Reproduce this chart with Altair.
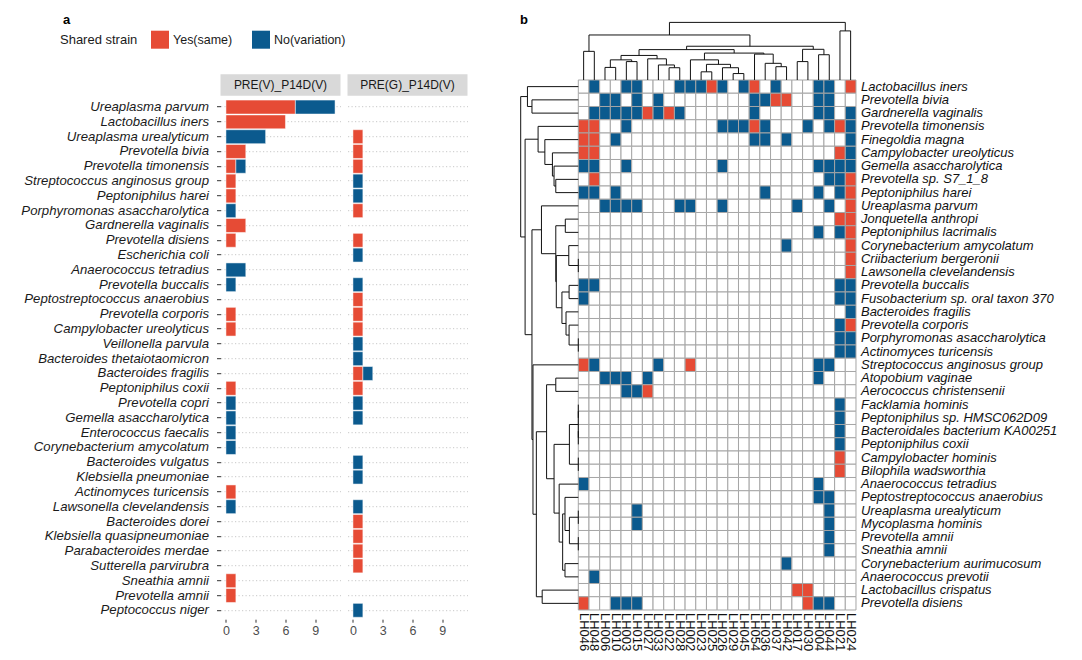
import pandas as pd
import altair as alt

RED = "#E64B35"
BLUE = "#0B5A8E"

# ---------------- data: panel a ----------------
bar_species = [
    "Ureaplasma parvum", "Lactobacillus iners", "Ureaplasma urealyticum",
    "Prevotella bivia", "Prevotella timonensis", "Streptococcus anginosus group",
    "Peptoniphilus harei", "Porphyromonas asaccharolytica", "Gardnerella vaginalis",
    "Prevotella disiens", "Escherichia coli", "Anaerococcus tetradius",
    "Prevotella buccalis", "Peptostreptococcus anaerobius", "Prevotella corporis",
    "Campylobacter ureolyticus", "Veillonella parvula", "Bacteroides thetaiotaomicron",
    "Bacteroides fragilis", "Peptoniphilus coxii", "Prevotella copri",
    "Gemella asaccharolytica", "Enterococcus faecalis", "Corynebacterium amycolatum",
    "Bacteroides vulgatus", "Klebsiella pneumoniae", "Actinomyces turicensis",
    "Lawsonella clevelandensis", "Bacteroides dorei", "Klebsiella quasipneumoniae",
    "Parabacteroides merdae", "Sutterella parvirubra", "Sneathia amnii",
    "Prevotella amnii", "Peptococcus niger",
]
panel_names = ["PRE(V)_P14D(V)", "PRE(G)_P14D(V)"]
status_labels = ["Yes(same)", "No(variation)"]
legend_title = "Shared strain"

pv_yes = [7, 6, 0, 2, 1, 1, 1, 0, 2, 1, 0, 0, 0, 0, 1, 1, 0, 0, 0, 1, 0, 0, 0, 0, 0, 0, 1, 0, 0, 0, 0, 0, 1, 1, 0]
pv_no = [4, 0, 4, 0, 1, 0, 0, 1, 0, 0, 0, 2, 1, 0, 0, 0, 0, 0, 0, 0, 1, 1, 1, 1, 0, 0, 0, 1, 0, 0, 0, 0, 0, 0, 0]
pg_yes = [0, 0, 1, 1, 1, 0, 0, 1, 0, 1, 0, 0, 0, 1, 1, 1, 0, 0, 1, 1, 0, 0, 0, 0, 0, 0, 0, 0, 1, 1, 1, 1, 0, 0, 0]
pg_no = [0, 0, 0, 0, 0, 1, 1, 0, 0, 0, 1, 0, 1, 0, 0, 0, 1, 1, 1, 0, 1, 1, 0, 0, 1, 1, 0, 1, 0, 0, 0, 0, 0, 0, 1]
x_ticks = [0, 3, 6, 9]

# ---------------- data: panel b ----------------
heat_cols = ["LH046", "LH048", "LH006", "LH010", "LH003", "LH015", "LH027", "LH033",
             "LH022", "LH028", "LH002", "LH023", "LH025", "LH026", "LH029", "LH045",
             "LH054", "LH036", "LH037", "LH042", "LH017", "LH030", "LH004", "LH044",
             "LH021", "LH024"]
heat_rows = [
    "Lactobacillus iners", "Prevotella bivia", "Gardnerella vaginalis",
    "Prevotella timonensis", "Finegoldia magna", "Campylobacter ureolyticus",
    "Gemella asaccharolytica", "Prevotella sp. S7_1_8", "Peptoniphilus harei",
    "Ureaplasma parvum", "Jonquetella anthropi", "Peptoniphilus lacrimalis",
    "Corynebacterium amycolatum", "Criibacterium bergeronii", "Lawsonella clevelandensis",
    "Prevotella buccalis", "Fusobacterium sp. oral taxon 370", "Bacteroides fragilis",
    "Prevotella corporis", "Porphyromonas asaccharolytica", "Actinomyces turicensis",
    "Streptococcus anginosus group", "Atopobium vaginae", "Aerococcus christensenii",
    "Facklamia hominis", "Peptoniphilus sp. HMSC062D09", "Bacteroidales bacterium KA00251",
    "Peptoniphilus coxii", "Campylobacter hominis", "Bilophila wadsworthia",
    "Anaerococcus tetradius", "Peptostreptococcus anaerobius", "Ureaplasma urealyticum",
    "Mycoplasma hominis", "Prevotella amnii", "Sneathia amnii",
    "Corynebacterium aurimucosum", "Anaerococcus prevotii", "Lactobacillus crispatus",
    "Prevotella disiens",
]
# R = Yes(same), B = No(variation), . = not detected  (grouped by 5 columns)
heat_cells = [
    ".B..B B...B BBRB. BR.B. ..BB. R",
    "..BB. B.B.. ..... .BBRR ..BB. .",
    ".BBBB BRBRB ..... .B... ..BB. B",
    "RR..B ..... ...BB BRB.. .B.BR B",
    "RR.B. ..... ..... .BB.B ..... B",
    "RR... ..... ..... ..... ....R B",
    "BB..B ..... ...B. ..... ..BBB B",
    ".R... ..... ..... ..... ...BB R",
    "BB.B. ..... ..... ..B.. ..B.B R",
    "..BBB B...B B..B. ..... B..B. R",
    "..... ..... ..... ..... ....R R",
    "..... ..... ..... ..... ..B.B R",
    "..... ..... ..... ....B ..... R",
    "..... ..... ..... ..... ..... R",
    "..... ..... ..... ..... ..... R",
    "BB... ..... ..... ..... ....B B",
    "B.... ..... ..... ..... ....B B",
    "..... ..... ..... ..... ..... B",
    "..... ..... ..... ..... ....B R",
    "..... ..... ..... ..... ....B B",
    "..... ..... ..... ..... ....B B",
    "RB... ..B.. R.... ..... ..BB. .",
    "..BBB .B... ..... ..... ..B.. .",
    "....B BR... ..... ..... ..... .",
    "..... ..... ..... ..... ....B .",
    "..... ..... ..... ..... ....B .",
    "..... ..... ..... ..... ....B .",
    "..... ..... ..... ..... ....B .",
    "..... ..... ..... ..... ....R .",
    "..... ..... ..... ..... ....R .",
    "B.... ..... ..... ..... ..B.. .",
    "..... ..... ..... ..... ..BB. .",
    "..... B.... ..... ..... ...B. .",
    "..... B.... ..... ..... ...B. .",
    "..... ..... ..... ..... ...B. .",
    "..... ..... ..... ..... ...B. .",
    "..... ..... ..... ....B ..... .",
    ".B... ..... ..... ..... ..... .",
    "..... ..... ..... ..... RR... .",
    "R..BB B.... ..... ..... .RBB. .",
]

# dendrogram merges: (left, right, height); int = leaf position (1-based), "nK" = K-th merge
col_merges = [
    (1, 2, 28.0), (3, 4, 12.3), (5, 6, 18.0), ("n2", "n3", 19.7), (9, 10, 12.0),
    (8, "n5", 14.7), (7, "n6", 20.7), ("n4", "n7", 24.0), (12, 13, 8.0), (15, 16, 6.3),
    (14, "n10", 12.0), ("n9", "n11", 15.3), (11, "n12", 19.7), (19, 20, 13.0),
    (18, "n14", 16.3), (17, "n15", 25.3), ("n13", "n16", 26.3), ("n8", "n17", 29.7),
    (21, 22, 18.0), (23, 24, 24.7), ("n19", "n20", 30.0), ("n18", "n21", 33.0),
    ("n1", "n22", 44.0), (25, 26, 48.0), ("n23", "n24", 56.3),
]
row_merges = [
    (2, 3, 45.3), (1, "n1", 49.7), (8, 9, 22.0), (7, "n3", 23.7), (6, "n4", 25.3),
    (5, "n5", 32.7), (4, "n6", 39.3), (11, 12, 12.7), (14, 15, 0.0), (13, "n9", 9.3),
    (16, 17, 9.0), (20, 21, 0.0), (19, "n12", 9.0), (18, "n13", 12.0), ("n11", "n14", 16.0),
    ("n10", "n15", 21.5), ("n8", "n16", 22.0), (10, "n17", 36.0), (23, 24, 22.0),
    (25, 26, 0.0), (27, 28, 0.0), ("n20", "n21", 0.0), (29, 30, 0.0), ("n22", "n23", 8.7),
    (33, 34, 0.0), (35, 36, 0.0), ("n25", "n26", 8.7), (32, "n27", 13.0), (37, 38, 13.0),
    ("n28", "n29", 15.3), (31, "n30", 18.7), ("n24", "n31", 23.7), ("n19", "n32", 31.0),
    (39, 40, 35.3), ("n33", "n34", 41.0), (22, "n35", 44.3), ("n18", "n36", 45.3),
    ("n7", "n37", 52.0), ("n2", "n38", 56.3),
]

# ---------------- layout constants ----------------
PANEL_W = 120
PANEL_H = 521
GAP = 7
N_COLS = len(heat_cols)
N_ROWS = len(heat_rows)
COL_PX = 10.68
ROW_PX = 13.25
HEAT_LEFT = 103.8
HEAT_TOP = -18.2
TREE_PX = 57.6
FONT = "Liberation Sans"

# ---------------- build frames ----------------
def bar_frame(yes, no):
    recs = []
    for i, sp in enumerate(bar_species):
        for k, (lab, vals) in enumerate(zip(status_labels, (yes, no))):
            if vals[i] > 0:
                recs.append({"species": sp, "status": lab, "count": vals[i], "ord": k})
    return pd.DataFrame(recs)


code_map = {"R": RED, "B": BLUE, ".": "#FFFFFF"}
heat_recs = []
for r, row in enumerate(heat_cells):
    s = row.replace(" ", "")
    assert len(s) == N_COLS
    for c, ch in enumerate(s):
        heat_recs.append({"x": c, "x2": c + 1, "y": r, "y2": r + 1, "fill": code_map[ch]})
df_heat = pd.DataFrame(heat_recs)


def tree_segments(merges):
    pos, hgt, segs = {}, {}, []
    for k, (a, b, h) in enumerate(merges, start=1):
        def get(n):
            if isinstance(n, int):
                return n - 0.5, 0.0
            return pos[n], hgt[n]
        pa, ha = get(a)
        pb, hb = get(b)
        segs += [(pa, ha, pa, h), (pb, hb, pb, h), (pa, h, pb, h)]
        pos[f"n{k}"] = (pa + pb) / 2
        hgt[f"n{k}"] = h
    return [s for s in segs if not (s[0] == s[2] and s[1] == s[3])]


tree_recs = []
cmax = max(m[2] for m in col_merges)
for p1, h1, p2, h2 in tree_segments(col_merges):
    f = TREE_PX / cmax / ROW_PX
    tree_recs.append({"x": p1, "x2": p2, "y": -h1 * f, "y2": -h2 * f})
rmax = max(m[2] for m in row_merges)
for p1, h1, p2, h2 in tree_segments(row_merges):
    f = TREE_PX / rmax / COL_PX
    tree_recs.append({"y": p1, "y2": p2, "x": -h1 * f, "x2": -h2 * f})
df_tree = pd.DataFrame(tree_recs)

df_rowlab = pd.DataFrame({"name": heat_rows, "x": N_COLS, "y": [i + 0.5 for i in range(N_ROWS)]})
df_collab = pd.DataFrame({"name": heat_cols, "x": [i + 0.5 for i in range(N_COLS)], "y": N_ROWS})

# ---------------- panel a ----------------
color_enc = alt.Color(
    "status:N",
    scale=alt.Scale(domain=status_labels, range=[RED, BLUE]),
    legend=alt.Legend(
        title=None, orient="none", legendX=-69.5, legendY=-67.5, direction="horizontal",
        symbolType="square", symbolSize=324, symbolStrokeWidth=0, labelFontSize=12.5,
        labelColor="#1a1a1a", labelOffset=4, columnPadding=19, labelFont=FONT,
    ),
)


def bar_panel(yes, no, name, first):
    yaxis = alt.Axis(
        title=None, domain=False, grid=True, gridDash=[1.2, 2.3], gridColor="#c8c8c8",
        gridWidth=1, bandPosition=0.5, labels=first, ticks=first, tickColor="#333333",
        tickSize=4, labelPadding=8, labelFontSize=13.2, labelFontStyle="italic",
        labelColor="#1a1a1a", labelLimit=400, labelFont=FONT,
    )
    bars = alt.Chart(bar_frame(yes, no)).mark_bar(stroke="white", strokeWidth=0.5).encode(
        x=alt.X("count:Q", stack="zero",
                scale=alt.Scale(domain=[-0.55, 11.55], nice=False, zero=False),
                axis=alt.Axis(title=None, values=x_ticks, grid=False, domain=False,
                              tickColor="#333333", tickSize=3, labelPadding=2,
                              labelFontSize=12.5, labelColor="#4d4d4d", labelFont=FONT)),
        y=alt.Y("species:N",
                scale=alt.Scale(domain=bar_species, paddingInner=0.06, paddingOuter=0.13),
                axis=yaxis),
        color=color_enc,
        order=alt.Order("ord:Q"),
    )
    hdr_df = pd.DataFrame({"label": [name]})
    strip = alt.Chart(hdr_df).mark_rect(color="#d9d9d9").encode(
        x=alt.value(0), x2=alt.value(PANEL_W), y=alt.value(-24), y2=alt.value(-2.5))
    strip_txt = alt.Chart(hdr_df).mark_text(fontSize=12, color="#1a1a1a", font=FONT).encode(
        text="label:N", x=alt.value(PANEL_W / 2), y=alt.value(-13))
    layers = [strip, strip_txt, bars]
    if first:
        a_lab = alt.Chart(pd.DataFrame({"t": ["a"]})).mark_text(
            fontSize=13, fontWeight="bold", align="left", baseline="top", color="black",
            font=FONT).encode(text="t:N", x=alt.value(-157.5), y=alt.value(-84.3))
        lt = alt.Chart(pd.DataFrame({"t": [legend_title]})).mark_text(
            fontSize=13, align="left", baseline="middle", color="#1a1a1a", font=FONT).encode(
            text="t:N", x=alt.value(-160.5), y=alt.value(-58))
        layers += [a_lab, lt]
    return alt.layer(*layers).properties(width=PANEL_W, height=PANEL_H)


c1 = bar_panel(pv_yes, pv_no, panel_names[0], True)
c2 = bar_panel(pg_yes, pg_no, panel_names[1], False)

# ---------------- panel b ----------------
xs = alt.Scale(domain=[0, N_COLS], range=[HEAT_LEFT, HEAT_LEFT + N_COLS * COL_PX], nice=False, zero=False)
ys = alt.Scale(domain=[0, N_ROWS], range=[HEAT_TOP, HEAT_TOP + N_ROWS * ROW_PX], nice=False, zero=False)

heat = alt.Chart(df_heat).mark_rect(stroke="#a6a6a6", strokeWidth=1).encode(
    x=alt.X("x:Q", scale=xs, axis=None), x2="x2:Q",
    y=alt.Y("y:Q", scale=ys, axis=None), y2="y2:Q",
    fill=alt.Fill("fill:N", scale=None),
)
tree = alt.Chart(df_tree).mark_rule(color="#111111", strokeWidth=1).encode(
    x=alt.X("x:Q", scale=xs, axis=None), x2="x2:Q",
    y=alt.Y("y:Q", scale=ys, axis=None), y2="y2:Q",
)
rowlab = alt.Chart(df_rowlab).mark_text(
    align="left", baseline="middle", dx=5, fontSize=13, fontStyle="italic",
    color="#111111", font=FONT).encode(
    x=alt.X("x:Q", scale=xs, axis=None), y=alt.Y("y:Q", scale=ys, axis=None), text="name:N")
collab = alt.Chart(df_collab).mark_text(
    align="left", baseline="middle", angle=90, dx=3, fontSize=13,
    color="#111111", font=FONT).encode(
    x=alt.X("x:Q", scale=xs, axis=None), y=alt.Y("y:Q", scale=ys, axis=None), text="name:N")
b_lab = alt.Chart(pd.DataFrame({"t": ["b"]})).mark_text(
    fontSize=13, fontWeight="bold", align="left", baseline="top", color="black",
    font=FONT).encode(text="t:N", x=alt.value(45.5), y=alt.value(-84.3))

c3 = alt.layer(heat, tree, rowlab, collab, b_lab).properties(
    width=HEAT_LEFT + N_COLS * COL_PX, height=PANEL_H)

chart = alt.hconcat(c1, c2, c3, spacing=GAP, bounds="flush").properties(
    padding={"left": 12.5, "top": 5.2, "right": 4, "bottom": 2}
).configure(font=FONT).configure_view(stroke=None, strokeWidth=0)

chart.save("out.html", embed_options={"renderer": "svg", "actions": False})
